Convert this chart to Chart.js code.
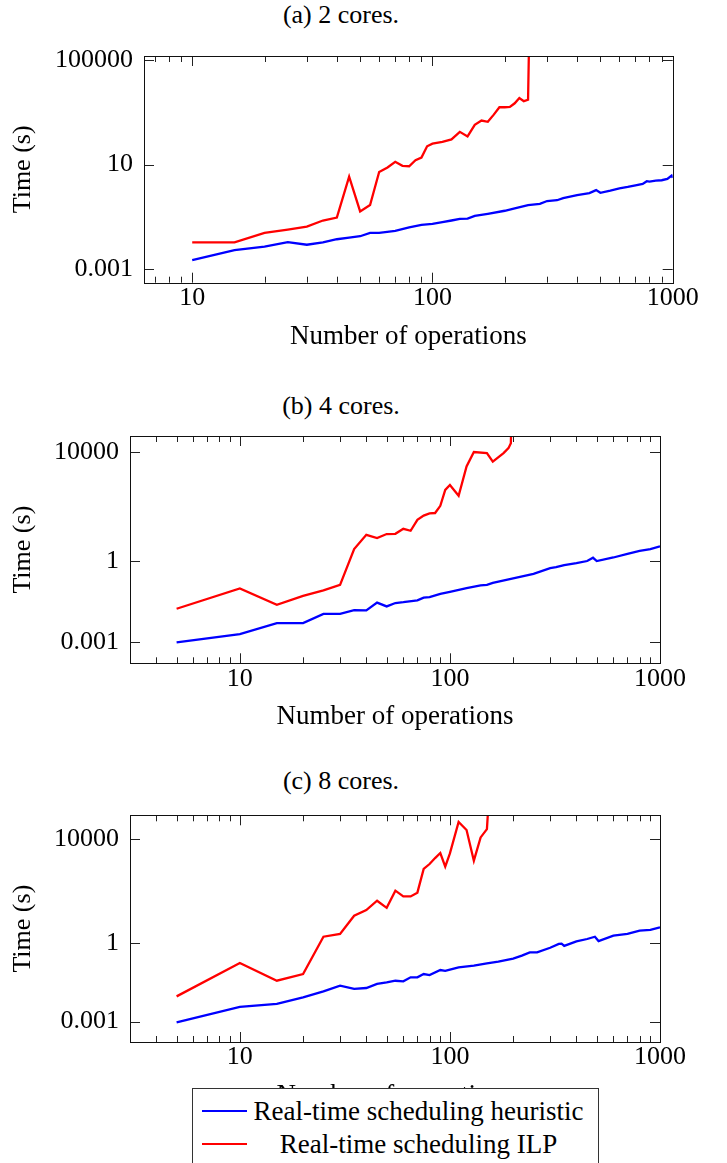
<!DOCTYPE html>
<html>
<head>
<meta charset="utf-8">
<script src="https://cdn.jsdelivr.net/npm/chart.js@4/dist/chart.umd.min.js"></script>
<style>
  html, body { margin: 0; padding: 0; background: #fff; }
  body { width: 727px; height: 1163px; position: relative; overflow: hidden; font-family: 'Liberation Serif', 'DejaVu Serif', serif; }
  .cap { position: absolute; left: 0; width: 682px; text-align: center; font-size: 26px; line-height: 30px; color: #000; }
  canvas { position: absolute; left: 0; }
  #legend { position: absolute; left: 192px; top: 1088px; width: 405px; height: 120px; border: 1px solid #333; background: #fff; z-index: 5; }
  .lrow { position: absolute; left: 0; width: 100%; height: 32px; }
  .lline { position: absolute; left: 9px; width: 45px; top: 15px; height: 0; border-top: 2.4px solid; }
  .ltext { position: absolute; left: 57px; width: 337px; text-align: center; font-size: 27px; line-height: 32px; top: 0; color: #000; white-space: nowrap; }
</style>
</head>
<body>
<div class="cap" id="capA" style="top:0px"></div>
<div class="cap" id="capB" style="top:391px"></div>
<div class="cap" id="capC" style="top:766px"></div>
<canvas id="cA" width="727" height="324" style="top:26px"></canvas>
<canvas id="cB" width="727" height="324" style="top:406px"></canvas>
<canvas id="cC" width="727" height="324" style="top:785px"></canvas>
<div id="legend"></div>
<script>
// ---------- texts ----------
const CAPTIONS = ['(a) 2 cores.', '(b) 4 cores.', '(c) 8 cores.'];
const SERIES_NAMES = ['Real-time scheduling heuristic', 'Real-time scheduling ILP'];
const SERIES_COLORS = ['#0000ff', '#ff0000'];
const X_TITLE = 'Number of operations';
const Y_TITLE = 'Time (s)';

// ---------- tick labels ----------
const X_TICKS = [10, 100, 1000];
const Y_TICKS_A = [0.001, 10, 100000];
const Y_TICKS_B = [0.001, 1, 10000];
const Y_TICKS_C = [0.001, 1, 10000];

// ---------- axis ranges ----------
const X_RANGE_A = [6.3, 1000];
const Y_RANGE_A = [3.4e-4, 1.42e5];
const X_RANGE_B = [3, 1000];
const Y_RANGE_B = [1.7e-4, 3.87e4];
const X_RANGE_C = [3, 1000];
const Y_RANGE_C = [1.66e-4, 8.1e4];

// ---------- (a) 2 cores ----------
const A_HEUR_X = [10,15,20,25,30,35,40,45,50,55,60,70,80,90,100,110,120,130,140,150,170,200,220,250,280,300,330,350,400,450,480,500,550,600,650,700,750,780,800,850,900,950,990,1000];
const A_HEUR_Y = [0.0022,0.0053,0.0072,0.0107,0.0085,0.0104,0.0138,0.016,0.018,0.024,0.024,0.029,0.039,0.049,0.053,0.062,0.072,0.083,0.085,0.108,0.13,0.17,0.21,0.28,0.31,0.40,0.43,0.52,0.68,0.81,1.05,0.83,1.0,1.22,1.38,1.6,1.8,2.3,2.2,2.4,2.5,2.8,3.8,3.1];
const A_ILP_X = [10,15,20,25,30,35,40,45,50,55,60,65,70,75,80,85,90,95,100,110,120,130,140,150,160,170,180,190,200,210,220,230,240,250,255];
const A_ILP_Y = [0.0105,0.0105,0.024,0.032,0.042,0.072,0.093,3.4,0.16,0.28,5.2,7.7,12.7,8.9,8.6,14.6,18.5,50,63,73,91,178,119,330,480,430,810,1550,1550,1600,2200,3500,2650,3000,1e8];

// ---------- (b) 4 cores ----------
const B_HEUR_X = [5,10,15,20,25,30,35,40,45,50,55,60,70,75,80,90,100,120,140,150,160,200,250,300,320,350,400,450,480,500,600,700,800,900,1000];
const B_HEUR_Y = [0.001,0.002,0.0051,0.0051,0.0112,0.0112,0.0154,0.0149,0.029,0.021,0.028,0.030,0.035,0.044,0.046,0.061,0.072,0.099,0.124,0.131,0.155,0.224,0.33,0.54,0.58,0.69,0.82,0.98,1.29,0.98,1.32,1.8,2.3,2.7,3.4];
const B_ILP_X = [5,10,15,20,25,30,35,40,45,50,55,60,65,70,75,80,85,90,95,100,110,120,130,150,160,180,190,195,200];
const B_ILP_Y = [0.0172,0.096,0.024,0.051,0.081,0.13,2.7,9,6.8,9.6,9.8,15,12.7,32,46,55,57,105,405,610,245,2950,10000,9100,4450,9100,13800,21000,1e8];

// ---------- (c) 8 cores ----------
const C_HEUR_X = [5,10,15,20,25,30,35,40,45,50,55,60,65,70,75,80,90,95,100,110,130,150,170,200,220,240,260,300,330,340,350,400,450,490,510,600,700,800,900,1000];
const C_HEUR_Y = [0.00094,0.0037,0.0048,0.0085,0.0145,0.024,0.018,0.0195,0.028,0.032,0.037,0.035,0.050,0.050,0.067,0.061,0.095,0.088,0.098,0.12,0.14,0.17,0.20,0.26,0.34,0.45,0.45,0.68,0.95,0.98,0.8,1.19,1.47,1.8,1.23,1.97,2.3,3.1,3.3,4.1];
const C_ILP_X = [5,10,15,20,25,30,35,40,45,50,55,60,65,70,75,80,85,90,95,100,110,120,130,140,150,160];
const C_ILP_Y = [0.0093,0.178,0.037,0.067,1.8,2.3,11.5,19,43,23,105,63,63,88,710,1100,1860,2900,870,2800,45000,22000,1480,11500,24000,1e8];

const FONT = "'Liberation Serif', 'DejaVu Serif', serif";

// frame + inward ticks on all four sides, positions from the chart's scales
const frameTicks = {
  id: 'frameTicks',
  afterDatasetsDraw(chart, args, opts) {
    const { ctx, chartArea: a, scales: { x, y } } = chart;
    ctx.save();
    ctx.strokeStyle = '#222';
    ctx.lineWidth = 1;
    const line = (x1, y1, x2, y2) => { ctx.beginPath(); ctx.moveTo(x1, y1); ctx.lineTo(x2, y2); ctx.stroke(); };
    for (let d = 1; d <= 1000; d *= 10) {
      for (let k = 1; k <= 9; k++) {
        const v = k * d;
        if (v < x.min - 1e-9 || v > x.max + 1e-9) continue;
        const px = Math.round(x.getPixelForValue(v)) + 0.5;
        const len = (k === 1) ? 10 : 6;
        line(px, a.bottom, px, a.bottom - len);
        line(px, a.top, px, a.top + len);
      }
    }
    opts.yMajor.forEach(v => {
      const py = Math.round(y.getPixelForValue(v)) + 0.5;
      line(a.left, py, a.left + 10, py);
      line(a.right, py, a.right - 10, py);
    });
    ctx.strokeStyle = '#111';
    ctx.strokeRect(Math.round(a.left) + 0.5, Math.round(a.top) + 0.5, Math.round(a.right - a.left), Math.round(a.bottom - a.top));
    ctx.restore();
  }
};

function pts(xs, ys) { return xs.map((v, i) => ({ x: v, y: ys[i] })); }

function makeChart(id, P) {
  return new Chart(document.getElementById(id), {
    type: 'line',
    data: {
      datasets: [
        { label: SERIES_NAMES[0], data: pts(P.hx, P.hy), borderColor: SERIES_COLORS[0], borderWidth: 2.3, pointRadius: 0, tension: 0, fill: false },
        { label: SERIES_NAMES[1], data: pts(P.ix, P.iy), borderColor: SERIES_COLORS[1], borderWidth: 2.3, pointRadius: 0, tension: 0, fill: false }
      ]
    },
    options: {
      responsive: false,
      animation: false,
      devicePixelRatio: 1,
      layout: { padding: { top: P.padTop, right: P.padRight, left: 0, bottom: 0 } },
      plugins: { legend: { display: false }, tooltip: { enabled: false }, frameTicks: { yMajor: P.yTicks } },
      scales: {
        x: {
          type: 'logarithmic', min: P.xr[0], max: P.xr[1],
          afterBuildTicks: s => { s.ticks = X_TICKS.map(v => ({ value: v })); },
          afterFit: s => { s.height = P.xH; },
          grid: { display: false, drawTicks: false }, border: { display: false },
          ticks: { autoSkip: false, maxRotation: 0, minRotation: 0, padding: 0, color: '#000', font: { family: FONT, size: 26, lineHeight: 1.2 }, callback: v => String(v) },
          title: { display: true, text: X_TITLE, color: '#000', font: { family: FONT, size: 27, lineHeight: 1 }, padding: { top: 0, bottom: 0 } }
        },
        y: {
          type: 'logarithmic', min: P.yr[0], max: P.yr[1],
          afterBuildTicks: s => { s.ticks = P.yTicks.map(v => ({ value: v })); },
          afterFit: s => { s.width = P.left; },
          grid: { display: false, drawTicks: false }, border: { display: false },
          ticks: { autoSkip: false, padding: 11, color: '#000', font: { family: FONT, size: 26, lineHeight: 1.2 }, callback: v => String(v) },
          title: { display: true, text: Y_TITLE, color: '#000', font: { family: FONT, size: 26, lineHeight: 1 }, padding: { top: 10, bottom: 0 } }
        }
      }
    },
    plugins: [frameTicks]
  });
}

document.getElementById('capA').textContent = CAPTIONS[0];
document.getElementById('capB').textContent = CAPTIONS[1];
document.getElementById('capC').textContent = CAPTIONS[2];

// canvas tops: A 26, B 406, C 785 (each 324 high)
makeChart('cA', { hx: A_HEUR_X, hy: A_HEUR_Y, ix: A_ILP_X, iy: A_ILP_Y, xr: X_RANGE_A, yr: Y_RANGE_A, yTicks: Y_TICKS_A, padTop: 30, padRight: 54.3, left: 144, xH: 67.3 });
makeChart('cB', { hx: B_HEUR_X, hy: B_HEUR_Y, ix: B_ILP_X, iy: B_ILP_Y, xr: X_RANGE_B, yr: Y_RANGE_B, yTicks: Y_TICKS_B, padTop: 30, padRight: 67, left: 130, xH: 66.7 });
makeChart('cC', { hx: C_HEUR_X, hy: C_HEUR_Y, ix: C_ILP_X, iy: C_ILP_Y, xr: X_RANGE_C, yr: Y_RANGE_C, yTicks: Y_TICKS_C, padTop: 30.3, padRight: 67, left: 130, xH: 67 });

// legend
const leg = document.getElementById('legend');
SERIES_NAMES.forEach((name, i) => {
  const row = document.createElement('div');
  row.className = 'lrow';
  row.style.top = (6 + i * 32.7) + 'px';
  const ln = document.createElement('div');
  ln.className = 'lline';
  ln.style.borderTopColor = SERIES_COLORS[i];
  const tx = document.createElement('div');
  tx.className = 'ltext';
  tx.textContent = name;
  row.appendChild(ln); row.appendChild(tx);
  leg.appendChild(row);
});
</script>
</body>
</html>
